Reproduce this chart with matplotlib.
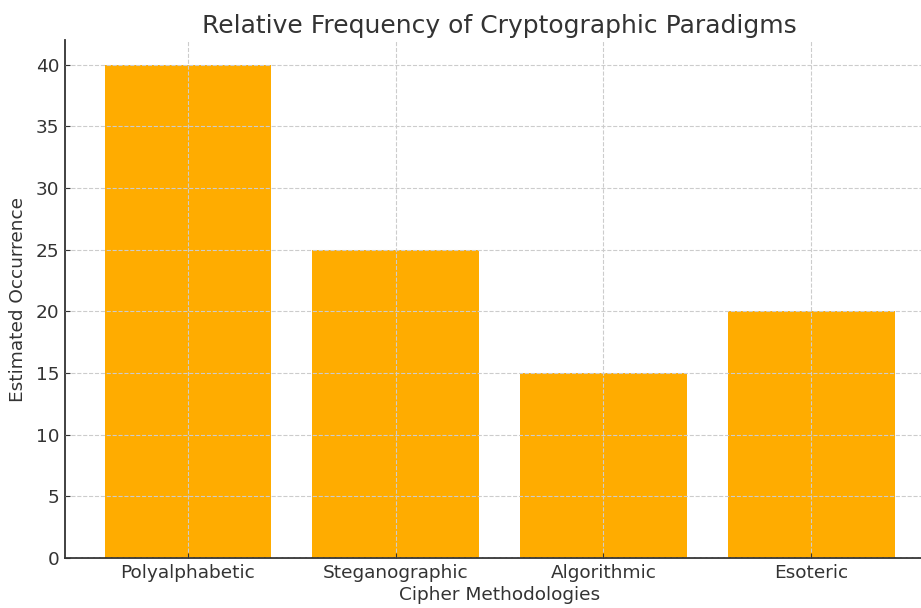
import matplotlib
matplotlib.use("Agg")
import matplotlib.pyplot as plt

categories = ["Polyalphabetic", "Steganographic", "Algorithmic", "Esoteric"]
occurrences = [40, 25, 15, 20]

plt.rcParams['text.color'] = '#333333'
plt.rcParams['axes.labelcolor'] = '#333333'
plt.rcParams['xtick.color'] = '#333333'
plt.rcParams['ytick.color'] = '#333333'

fig = plt.figure(figsize=(9.21, 6.08), dpi=100)
ax = fig.add_axes([65 / 921, 50 / 608, 869 / 921, 518 / 608])

ax.bar(categories, occurrences, width=0.8, color='#FFAC00', zorder=1)
ax.grid(True, linestyle='--', color='#cccccc', linewidth=0.8, zorder=2)
ax.set_axisbelow(False)

ax.spines['top'].set_visible(False)
ax.spines['right'].set_visible(False)
for side in ['left', 'bottom']:
    ax.spines[side].set_color('#333333')
    ax.spines[side].set_linewidth(1.3)
ax.tick_params(direction='in', labelsize=13.3, pad=4)

ax.set_title("Relative Frequency of Cryptographic Paradigms", fontsize=18, pad=5)
ax.set_xlabel("Cipher Methodologies", fontsize=13.3, labelpad=3)
ax.set_ylabel("Estimated Occurrence", fontsize=13.3, labelpad=6)

fig.savefig("out.png", dpi=100)
